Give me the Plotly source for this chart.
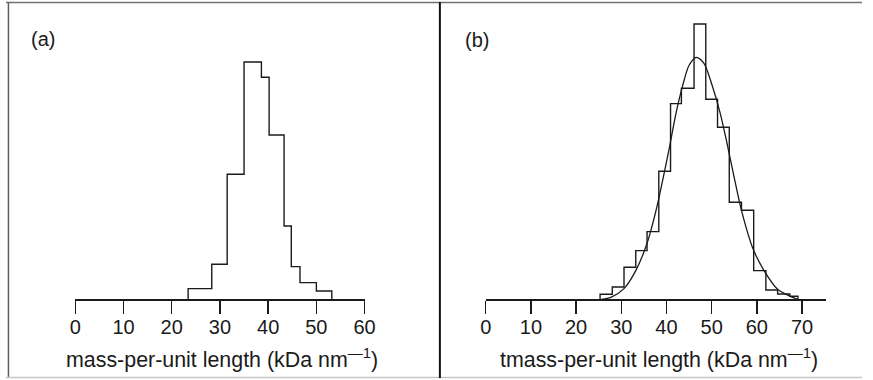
import plotly.graph_objects as go

# ---------------- data ----------------
# panel (a): histogram bin edges and heights (arbitrary count units)
a_edges = [23.4, 28.3, 31.5, 35.0, 38.6, 40.2, 43.3, 44.8, 46.6, 50.0, 53.2]
a_heights = [10.7, 35.0, 125.0, 237.3, 222.0, 164.3, 73.3, 32.7, 16.7, 8.3]

# panel (b): histogram bin edges and heights
b_edges = [25.3, 28.0, 30.6, 33.2, 35.7, 38.3, 40.9, 43.3, 46.1, 48.7, 51.3,
           53.9, 56.6, 59.3, 62.0, 64.6, 67.3, 69.1]
b_heights = [5.0, 12.3, 32.0, 48.7, 67.7, 128.0, 195.7, 211.0, 275.3, 200.0,
             172.0, 97.0, 89.0, 28.7, 9.3, 5.3, 3.0]

# panel (b): fitted curve
b_fit_x = [25.6, 27.7, 30.6, 33.2, 35.7, 37.8, 39.2, 40.7, 42.1, 43.6, 45.0,
           46.6, 48.3, 50.1, 51.9, 53.4, 54.8, 56.6, 59.2, 61.7, 64.6, 67.5, 68.9]
b_fit_y = [0.0, 2.0, 10.7, 28.7, 56.0, 91.0, 120.0, 153.0, 186.0, 214.0, 234.0,
           242.0, 236.0, 214.0, 186.0, 156.0, 126.0, 89.0, 50.0, 28.0, 10.0, 2.7, 0.3]

a_ticks = [0, 10, 20, 30, 40, 50, 60]
b_ticks = [0, 10, 20, 30, 40, 50, 60, 70]
a_axis_range = [0, 60]
b_axis_range = [0, 75.4]
y_range = [0, 280]

a_title = "mass-per-unit length (kDa nm<sup>—1</sup>)"
b_title = "tmass-per-unit length (kDa nm<sup>—1</sup>)"
panel_labels = ["(a)", "(b)"]

# ---------------- helpers ----------------
def outline(edges, heights):
    xs = [edges[0]] + list(edges)
    ys = [0] + list(heights) + [0]
    return xs, ys

W, H = 873, 380
FONT = "Liberation Sans, Arial, Helvetica, sans-serif"
INK = "#1a1a1a"

def fx(px):
    return px / W

def fy(py):
    return (H - py) / H

fig = go.Figure()

ax, ay = outline(a_edges, a_heights)
fig.add_trace(go.Scatter(x=ax, y=ay, mode="lines", line=dict(color=INK, width=1.4, shape="hv"),
                         xaxis="x", yaxis="y", showlegend=False, hoverinfo="skip"))
bx, by = outline(b_edges, b_heights)
fig.add_trace(go.Scatter(x=bx, y=by, mode="lines", line=dict(color=INK, width=1.4, shape="hv"),
                         xaxis="x2", yaxis="y2", showlegend=False, hoverinfo="skip"))
fig.add_trace(go.Scatter(x=b_fit_x, y=b_fit_y, mode="lines",
                         line=dict(color=INK, width=1.3, shape="spline", smoothing=0.8),
                         xaxis="x2", yaxis="y2", showlegend=False, hoverinfo="skip"))

y_dom = [fy(299.3), fy(19.3)]
common_x = dict(showline=True, linecolor=INK, linewidth=1.4, ticks="outside", ticklen=13,
                tickwidth=1.4, tickcolor=INK, showgrid=False, zeroline=False,
                ticklabelstandoff=-4,
                tickfont=dict(family=FONT, size=20, color=INK), fixedrange=True)
fig.update_layout(
    width=W, height=H, margin=dict(l=0, r=0, t=0, b=0),
    paper_bgcolor="white", plot_bgcolor="rgba(0,0,0,0)",
    xaxis=dict(domain=[fx(70.7), fx(365.7)], range=a_axis_range, tickvals=a_ticks,
               anchor="y", **common_x),
    yaxis=dict(domain=y_dom, range=y_range, visible=False, anchor="x", fixedrange=True),
    xaxis2=dict(domain=[fx(489.3), fx(836.7)], range=b_axis_range, tickvals=b_ticks,
                anchor="y2", **common_x),
    yaxis2=dict(domain=y_dom, range=y_range, visible=False, anchor="x2", fixedrange=True),
    showlegend=False,
    hovermode=False,
)

# axis titles and panel labels
for xc, txt in [(220.5, a_title), (666.0, b_title)]:
    fig.add_annotation(x=fx(xc), y=fy(357.5), xref="paper", yref="paper", text=txt,
                       showarrow=False, xanchor="center", yanchor="middle",
                       font=dict(family=FONT, size=21.4, color=INK))
for (xc, yc), txt in zip([(37.5, 39), (480, 40)], panel_labels):
    fig.add_annotation(x=fx(xc), y=fy(yc), xref="paper", yref="paper", text=txt,
                       showarrow=False, xanchor="center", yanchor="middle",
                       font=dict(family=FONT, size=20, color=INK))

# frame lines
fig.add_shape(type="line", xref="paper", yref="paper", x0=0, x1=1, y0=fy(2.5), y1=fy(2.5),
              line=dict(color="#707070", width=1.5))
fig.add_shape(type="line", xref="paper", yref="paper", x0=fx(2.5), x1=fx(2.5), y0=fy(2), y1=fy(377),
              line=dict(color="#606060", width=1.5))
fig.add_shape(type="line", xref="paper", yref="paper", x0=0, x1=1, y0=fy(377.5), y1=fy(377.5),
              line=dict(color="#c8c8c8", width=1.5))
fig.add_shape(type="line", xref="paper", yref="paper", x0=fx(442.5), x1=fx(442.5), y0=fy(2), y1=fy(378),
              line=dict(color="#111111", width=2))

fig.write_html("out.html", config={"displayModeBar": False, "staticPlot": True},
               post_script="document.body.style.margin='0';document.body.style.overflow='hidden';")
